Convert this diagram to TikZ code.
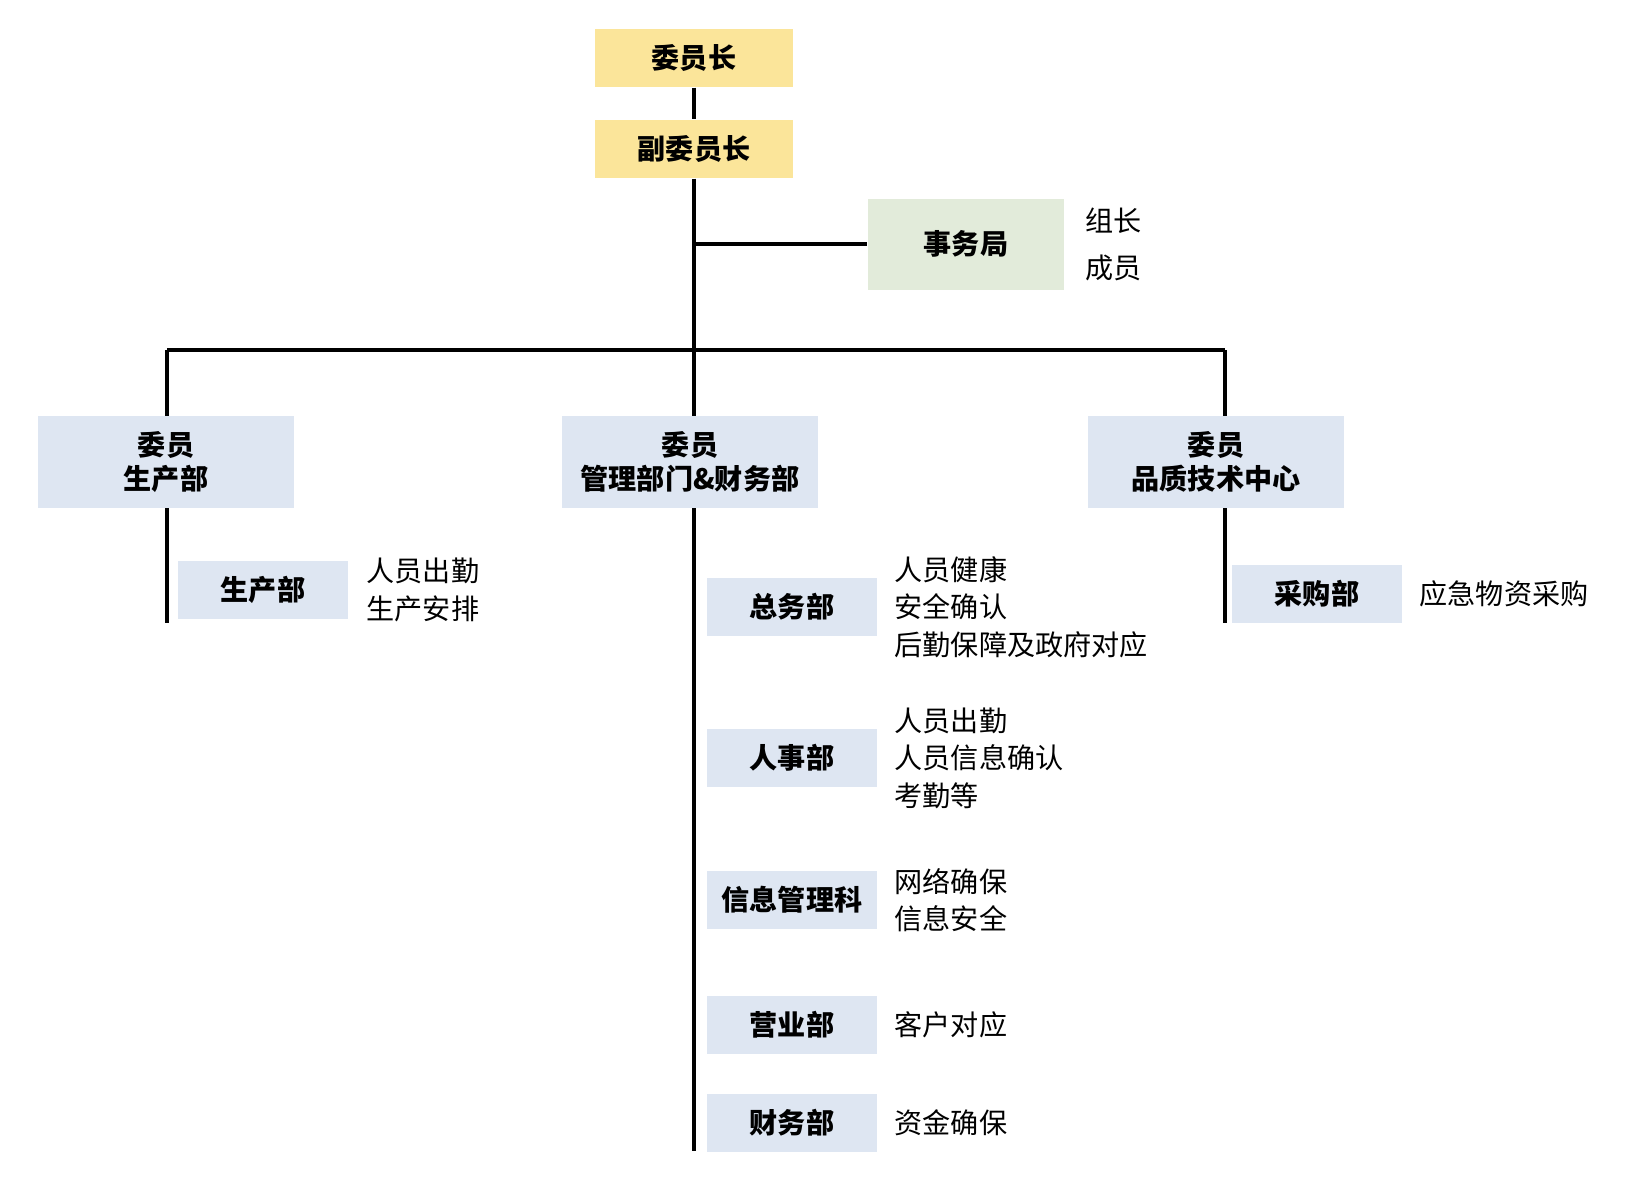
\documentclass[tikz,border=0pt]{standalone}
\usepackage{fontspec}
\setmainfont{Noto Sans CJK SC}
\usepackage{xcolor}
\usetikzlibrary{positioning}

\definecolor{leadyellow}{HTML}{FBE59A}
\definecolor{officegreen}{HTML}{E2EBDA}
\definecolor{deptblue}{HTML}{DEE6F2}

\begin{document}
\begin{tikzpicture}[x=0.02cm, y=-0.02cm,
    box/.style={inner sep=0pt, align=center, font=\fontsize{16}{19}\selectfont\bfseries},
    lead/.style={box, fill=leadyellow, minimum width=3.96cm, minimum height=1.17cm},
    office/.style={box, fill=officegreen, minimum width=3.94cm, minimum height=1.82cm},
    member/.style={box, fill=deptblue, minimum width=5.12cm, minimum height=1.84cm},
    dept/.style={box, fill=deptblue, minimum width=3.4cm, minimum height=1.16cm},
    note/.style={inner sep=0pt, align=left, font=\fontsize{16}{21.3}\selectfont},
    link/.style={line width=1.9pt}]
    \useasboundingbox (0,0) rectangle (1626,1181);

    % Chairman and vice chairman
    \node[lead] (chair) at (694,58) {委员长};
    \node[lead] (vice) at (694,149) {副委员长};

    % Office
    \node[office] (office) at (966,244) {事务局};
    \node[note, font=\fontsize{16}{26.7}\selectfont, right=0.4cm of office] (office-note) {组长\\成员};

    % Members
    \node[member] (prod-member) at (166,462) {委员\\生产部};
    \node[member] (admin-member) at (690,462) {委员\\管理部门\&财务部};
    \node[member] (quality-member) at (1216,462) {委员\\品质技术中心};

    % Departments
    \node[dept] (prod) at (263,590) {生产部};
    \node[note, right=0.36cm of prod] (prod-note) {人员出勤\\生产安排};

    \node[dept] (general) at (792,607) {总务部};
    \node[note, right=0.34cm of general] (general-note) {人员健康\\安全确认\\后勤保障及政府对应};
    \node[dept] (hr) at (792,758) {人事部};
    \node[note, right=0.34cm of hr] (hr-note) {人员出勤\\人员信息确认\\考勤等};
    \node[dept] (it) at (792,900) {信息管理科};
    \node[note, right=0.34cm of it] (it-note) {网络确保\\信息安全};
    \node[dept] (sales) at (792,1025) {营业部};
    \node[note, right=0.34cm of sales] (sales-note) {客户对应};
    \node[dept] (finance) at (792,1123) {财务部};
    \node[note, right=0.34cm of finance] (finance-note) {资金确保};

    \node[dept] (purchase) at (1317,594) {采购部};
    \node[note, right=0.34cm of purchase] (purchase-note) {应急物资采购};

    % Bus
    \coordinate (bus) at (694,350);
    \coordinate (bus-left) at (167,350);
    \coordinate (bus-right) at (1225,350);
    \coordinate (prod-end) at (167,623);
    \coordinate (admin-end) at (694,1151);
    \coordinate (quality-end) at (1225,623);

    \draw[link] (chair) -- (vice);
    \draw[link] (vice) -- (bus);
    \draw[link] (vice.south |- office.west) -- (office.west);
    \draw[link] (bus-left) -- (bus-right);
    \draw[link] (bus-left) -- (bus-left |- prod-member.north);
    \draw[link] (bus) -- (bus |- admin-member.north);
    \draw[link] (bus-right) -- (bus-right |- quality-member.north);

    % Lines below members
    \draw[link] (prod-end |- prod-member.south) -- (prod-end);
    \draw[link] (admin-end |- admin-member.south) -- (admin-end);
    \draw[link] (quality-end |- quality-member.south) -- (quality-end);
\end{tikzpicture}
\end{document}
